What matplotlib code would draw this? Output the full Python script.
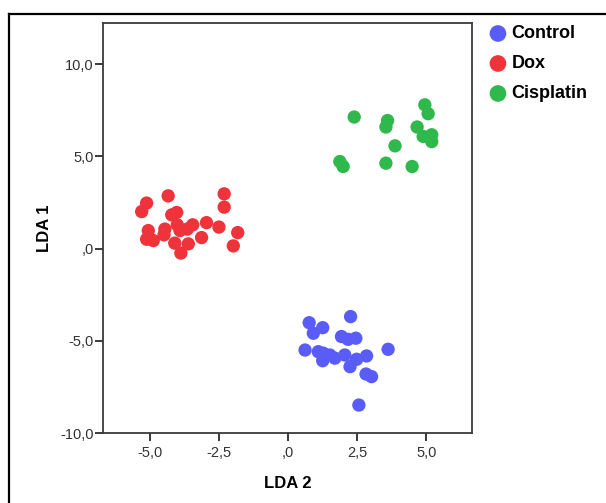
import matplotlib
matplotlib.use("Agg")
import matplotlib.pyplot as plt
from matplotlib.lines import Line2D

# LDA scores per group: (LDA 2, LDA 1)
control_lda2 = [0.76, 0.91, 1.25, 2.26, 1.93, 2.17, 2.45, 0.61, 1.09, 1.27,
                1.25, 1.69, 2.05, 2.24, 2.48, 2.84, 3.62, 2.82, 3.02, 2.56, 1.51]
control_lda1 = [-4.01, -4.58, -4.28, -3.68, -4.76, -4.91, -4.85, -5.49, -5.58, -5.66,
                -6.07, -5.93, -5.76, -6.39, -5.99, -5.81, -5.45, -6.79, -6.93, -8.47, -5.76]

dox_lda2 = [-5.13, -5.31, -4.35, -2.32, -2.32, -4.22, -4.04, -5.07, -5.13, -4.89,
            -4.50, -4.47, -4.02, -3.92, -3.66, -3.46, -4.11, -3.62, -3.89, -3.14,
            -2.96, -2.51, -1.83, -1.99]
dox_lda1 = [2.47, 2.01, 2.86, 2.97, 2.25, 1.83, 1.96, 0.98, 0.51, 0.44,
            0.75, 1.06, 1.29, 0.98, 1.06, 1.29, 0.30, 0.26, -0.24, 0.60,
            1.41, 1.17, 0.87, 0.15]

cis_lda2 = [2.39, 3.60, 3.54, 4.95, 5.07, 4.67, 4.89, 5.20, 5.20, 3.87,
            1.87, 1.99, 3.54, 4.49]
cis_lda1 = [7.13, 6.94, 6.59, 7.79, 7.31, 6.59, 6.08, 6.17, 5.80, 5.57,
            4.72, 4.45, 4.63, 4.45]

groups = ["Control", "Dox", "Cisplatin"]
colors = ["#5A5CF8", "#EE333A", "#2FB84B"]

x_ticks = [-5.0, -2.5, 0.0, 2.5, 5.0]
x_tick_labels = ["-5,0", "-2,5", ",0", "2,5", "5,0"]
y_ticks = [-10.0, -5.0, 0.0, 5.0, 10.0]
y_tick_labels = ["-10,0", "-5,0", ",0", "5,0", "10,0"]

plt.rcParams["font.family"] = ["Liberation Sans", "DejaVu Sans"]

W, H = 606, 503
fig = plt.figure(figsize=(W / 100, H / 100), dpi=100)
fig.patch.set_facecolor("white")

ax = fig.add_axes([103.3 / W, 1 - 433.3 / H, (472.3 - 103.3) / W, (433.3 - 22.5) / H])

data = [(control_lda2, control_lda1), (dox_lda2, dox_lda1), (cis_lda2, cis_lda1)]
handles = []
for (xs, ys), name, c in zip(data, groups, colors):
    h = ax.scatter(xs, ys, s=92, color=c, edgecolors="none", label=name, zorder=3)
    handles.append(h)

ax.set_xlim(-6.70, 6.67)
ax.set_ylim(-10.0, 12.25)
ax.set_xticks(x_ticks)
ax.set_xticklabels(x_tick_labels)
ax.set_yticks(y_ticks)
ax.set_yticklabels(y_tick_labels)

for sp in ax.spines.values():
    sp.set_color("#3a3a3a")
    sp.set_linewidth(1.3)

ax.tick_params(axis="both", direction="out", length=6, width=1.4, color="#3a3a3a",
               labelsize=10.5, labelcolor="#333333")
ax.tick_params(axis="y", pad=1)
ax.tick_params(axis="x", pad=3)

ax.set_xlabel("LDA 2", fontsize=12, fontweight="bold", labelpad=12)
ax.set_ylabel("LDA 1", fontsize=12, fontweight="bold", labelpad=6)

leg = fig.legend(handles=handles, labels=groups, loc="upper left",
                 bbox_to_anchor=(479 / W, 1 - 18 / H), frameon=False,
                 prop={"weight": "bold", "size": 13}, handletextpad=0.1,
                 labelspacing=0.72, handlelength=1.3, borderaxespad=0,
                 markerscale=1.25)

# outer frame lines (left and top)
fig.add_artist(Line2D([9 / W, 9 / W], [0, 1 - 14 / H], transform=fig.transFigure,
                      color="black", linewidth=1.6))
fig.add_artist(Line2D([9 / W, 1], [1 - 14 / H, 1 - 14 / H], transform=fig.transFigure,
                      color="black", linewidth=1.6))

fig.savefig("out.png", dpi=100)
